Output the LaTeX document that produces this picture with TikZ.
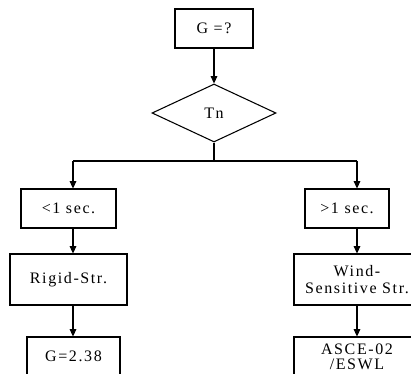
\documentclass[tikz,border=0pt]{standalone}
\usepackage{fontspec}
\setmainfont{Liberation Serif}[LetterSpace=10]
\usetikzlibrary{shapes.geometric,arrows.meta}
\newcommand\pxl{0.75pt}
\tikzset{
  box/.style={draw, line width=0.8pt, inner sep=0pt, align=center,
    font=\fontsize{12}{12.75}\selectfont},
  decision/.style={draw, diamond, line width=0.8pt, inner sep=0pt,
    minimum width=124*\pxl, minimum height=58*\pxl,
    font=\fontsize{12}{12.75}\selectfont},
  link/.style={line width=0.8pt},
  arr/.style={link, -{Triangle[length=5.5pt,width=5pt]}}
}
\begin{document}
\begin{tikzpicture}[x=0.75pt, y=-0.75pt]
  \useasboundingbox (0,0) rectangle (411,374);
  \clip (0,0) rectangle (411,374);

  % top of the chart
  \node[box, minimum width=78*\pxl, minimum height=39*\pxl] (g0) at (214,28.5) {G =?};
  \node[decision] (tn) at (214,113) {Tn};

  % period branches
  \node[box, minimum width=95*\pxl, minimum height=39*\pxl] (short) at (68.5,208.5) {<1 sec.};
  \node[box, minimum width=84*\pxl, minimum height=39*\pxl] (long) at (347,208.5) {>1 sec.};

  % structure type
  \node[box, minimum width=117*\pxl, minimum height=51*\pxl] (rigid) at (68.5,279.5) {Rigid-Str.};
  \node[box, minimum width=126*\pxl, minimum height=51*\pxl] (wind) at (357,279.5) {Wind-\\Sensitive Str.};

  % resulting gust factor
  \node[box, minimum width=93*\pxl, minimum height=39*\pxl] (gval) at (73.5,356.5) {G=2.38};
  \node[box, minimum width=126*\pxl, minimum height=39*\pxl,
        font=\fontsize{12}{11.25}\selectfont] (asce) at (357,356.5)
        {ASCE-02\\/ESWL};

  % connectors
  \coordinate (split) at (214,161);
  \coordinate (lcol) at (73,161);
  \coordinate (rcol) at (357,161);

  \draw[arr] (g0) -- (tn);
  \draw[link] (tn.south) -- (split);
  \draw[link] (lcol) -- (rcol);
  \draw[arr] (lcol) -- (lcol |- short.north);
  \draw[arr] (rcol) -- (rcol |- long.north);
  \draw[arr] (lcol |- short.south) -- (lcol |- rigid.north);
  \draw[arr] (lcol |- rigid.south) -- (lcol |- gval.north);
  \draw[arr] (rcol |- long.south) -- (rcol |- wind.north);
  \draw[arr] (rcol |- wind.south) -- (rcol |- asce.north);
\end{tikzpicture}
\end{document}
